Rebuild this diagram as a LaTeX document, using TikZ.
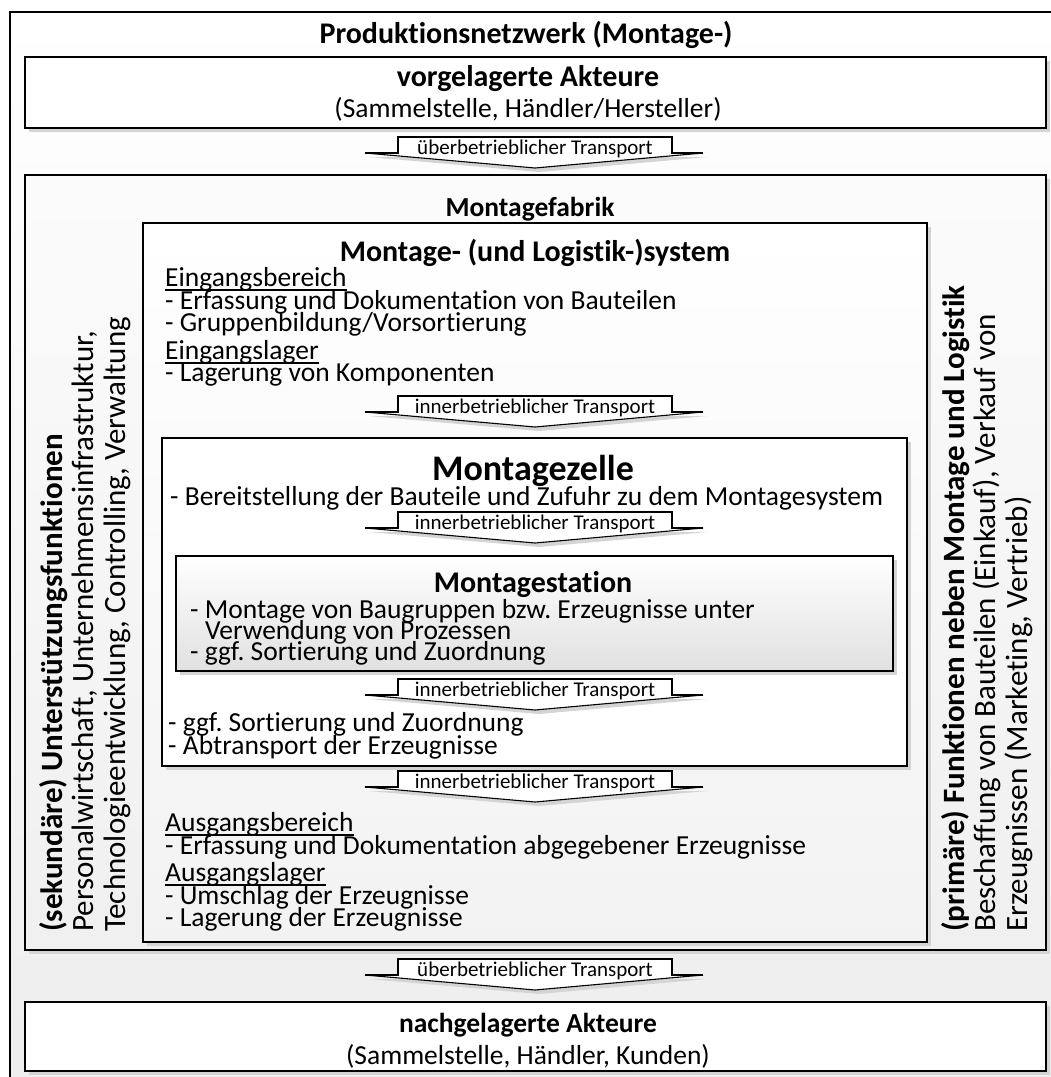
\documentclass[tikz,border=0pt]{standalone}
\usepackage{fontspec}
\setmainfont{Carlito}[Ligatures=NoCommon]
\frenchspacing
\begin{document}
\begin{tikzpicture}[x=1pt,y=-1pt,
  frameline/.style={draw=black,line width=2pt},
  boxline/.style={draw=black,line width=2.4pt},
  dropshadow/.style={fill=black!17},
  bodytext/.style={font=\fontsize{27.5}{23}\selectfont,anchor=base west,inner sep=0pt},
  titletext/.style={font=\bfseries\fontsize{30}{32}\selectfont,anchor=base,inner sep=0pt},
  smalltitle/.style={font=\bfseries\fontsize{27.5}{30}\selectfont,anchor=base,inner sep=0pt},
  bigtitle/.style={font=\bfseries\fontsize{36}{38}\selectfont,anchor=base,inner sep=0pt},
  subtitletext/.style={font=\fontsize{27.5}{28}\selectfont,anchor=base,inner sep=0pt},
  sidetext/.style={font=\fontsize{31}{31.5}\selectfont,align=left,rotate=90,anchor=north west,inner sep=0pt},
  translabel/.style={font=\fontsize{21}{22}\selectfont,anchor=base,inner sep=0pt},
  underlining/.style={line width=1.3pt},
  wing/.style={line width=2.6pt,line cap=butt,line join=miter},
  arrowedge/.style={line width=1.1pt}
]
% transport banner: name, y of the wings, label
\newcommand{\transportbanner}[3]{%
  \fill[dropshadow] (369,#2+4) -- (402,#2+4) -- (676,#2+4) -- (707,#2+4) -- (539,#2+19) -- cycle;
  \fill[white] (365,#2) -- (398,#2) -- (398,#2-16) -- (672,#2-16) -- (672,#2) -- (703,#2) -- (535,#2+15) -- cycle;
  \draw[arrowedge] (365,#2) -- (535,#2+15) -- (703,#2);
  \draw[wing] (365,#2) -- (398,#2) -- (398,#2-16) -- (672,#2-16) -- (672,#2) -- (703,#2);
  \node[translabel] (#1) at (535,#2+1) {#3};
}
% underline a heading node
\newcommand{\headingrule}[1]{%
  \draw[underlining] ([yshift=-4pt]#1.base west) -- ([yshift=-4pt]#1.base east);
}
\useasboundingbox (0,0) rectangle (1051,1077);
\begin{scope}
\clip (0,0) rectangle (1051,1077);
% outer production network frame
\shade[top color=white,bottom color=black!7] (10,12) rectangle (1070,1100);
\draw[frameline] (10,12) rectangle (1070,1100);
\node[titletext] (netz) at (526,43) {Produktionsnetzwerk (Montage-)};

% upstream actors
\fill[dropshadow] (29,61) rectangle (1050,132);
\draw[boxline,fill=white] (25,57) rectangle (1046,128);
\node[titletext] (vor) at (528,86) {vorgelagerte Akteure};
\node[subtitletext] (vorsub) at (528,117) {(Sammelstelle, Händler/Hersteller)};

\transportbanner{tr1}{153}{überbetrieblicher Transport}

% assembly plant
\fill[dropshadow] (29,179) rectangle (1050,954);
\shade[top color=black!1.5,bottom color=black!6] (25,175) rectangle (1046,950);
\draw[boxline] (25,175) rectangle (1046,950);
\node[smalltitle] (fabrik) at (530,216) {Montagefabrik};

% side texts
\node[sidetext] (sek) at (39,932) {\textbf{(sekundäre) Unterstützungsfunktionen}\\Personalwirtschaft, Unternehmensinfrastruktur,\\Technologieentwicklung, Controlling, Verwaltung};
\node[sidetext] (prim) at (941,932) {\textbf{(primäre) Funktionen neben Montage und Logistik}\\Beschaffung von Bauteilen (Einkauf), Verkauf von\\Erzeugnissen (Marketing, Vertrieb)};

% assembly and logistics system
\fill[dropshadow] (147,227) rectangle (931,946);
\shade[top color=white,bottom color=black!5] (143,223) rectangle (927,942);
\draw[boxline] (143,223) rectangle (927,942);
\node[titletext] (system) at (535,261) {Montage- (und Logistik-)system};
\node[bodytext] (ein1) at (165,286) {Eingangsbereich};
\node[bodytext] (ein2) at (165,309) {- Erfassung und Dokumentation von Bauteilen};
\node[bodytext] (ein3) at (165,331) {- Gruppenbildung/Vorsortierung};
\node[bodytext] (ein4) at (165,359) {Eingangslager};
\node[bodytext] (ein5) at (165,381) {- Lagerung von Komponenten};
\headingrule{ein1}
\headingrule{ein4}

\transportbanner{tr2}{412}{innerbetrieblicher Transport}

% assembly cell
\fill[dropshadow] (166,442) rectangle (911,770);
\draw[boxline,fill=white] (162,438) rectangle (907,766);
\node[bigtitle] (zelle) at (533,480) {Montagezelle};
\node[bodytext] (zel1) at (170,505) {- Bereitstellung der Bauteile und Zufuhr zu dem Montagesystem};

\transportbanner{tr3}{528}{innerbetrieblicher Transport}

% assembly station
\fill[dropshadow] (180,560) rectangle (897,675);
\shade[top color=white,bottom color=black!12] (176,556) rectangle (893,671);
\draw[boxline] (176,556) rectangle (893,671);
\node[titletext] (station) at (533,592) {Montagestation};
\node[bodytext] (sta1) at (190,618) {- Montage von Baugruppen bzw. Erzeugnisse unter};
\node[bodytext] (sta2) at (205,639) {Verwendung von Prozessen};
\node[bodytext] (sta3) at (190,660) {- ggf. Sortierung und Zuordnung};

\transportbanner{tr4}{695}{innerbetrieblicher Transport}

\node[bodytext] (zel2) at (168,731) {- ggf. Sortierung und Zuordnung};
\node[bodytext] (zel3) at (168,754) {- Abtransport der Erzeugnisse};

\transportbanner{tr5}{787}{innerbetrieblicher Transport}

\node[bodytext] (aus1) at (165,831) {Ausgangsbereich};
\node[bodytext] (aus2) at (165,854) {- Erfassung und Dokumentation abgegebener Erzeugnisse};
\node[bodytext] (aus3) at (165,881) {Ausgangslager};
\node[bodytext] (aus4) at (165,904) {- Umschlag der Erzeugnisse};
\node[bodytext] (aus5) at (165,926) {- Lagerung der Erzeugnisse};
\headingrule{aus1}
\headingrule{aus3}

\transportbanner{tr6}{975}{überbetrieblicher Transport}

% downstream actors
\fill[dropshadow] (29,1006) rectangle (1050,1075);
\draw[boxline,fill=white] (25,1002) rectangle (1046,1071);
\node[smalltitle] (nach) at (528,1032) {nachgelagerte Akteure};
\node[subtitletext] (nachsub) at (528,1064) {(Sammelstelle, Händler, Kunden)};
\end{scope}
\end{tikzpicture}
\end{document}
